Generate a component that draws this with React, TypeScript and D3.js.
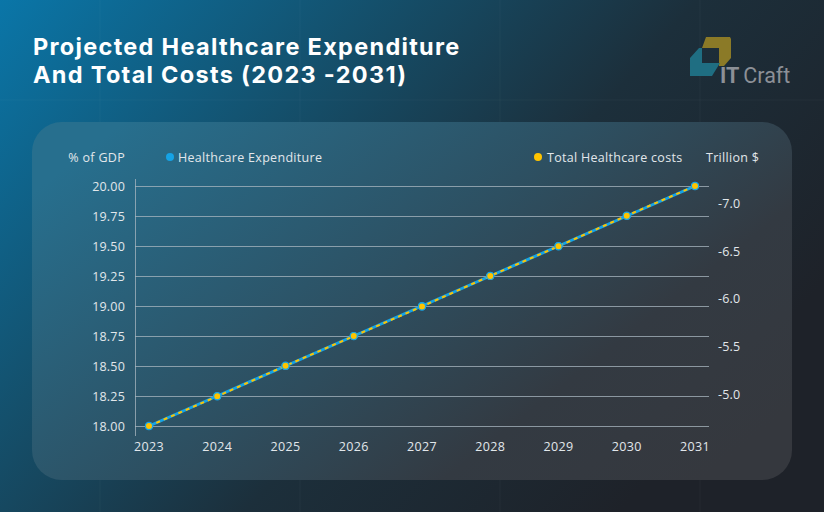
import React from "react";
import * as d3 from "d3";

const years = [2023, 2024, 2025, 2026, 2027, 2028, 2029, 2030, 2031];
const expenditure = [18.0, 18.25, 18.5, 18.75, 19.0, 19.25, 19.5, 19.75, 20.0];
const totalCosts = [-4.67, -4.98, -5.3, -5.61, -5.92, -6.24, -6.55, -6.87, -7.18];
const leftTicks = [18.0, 18.25, 18.5, 18.75, 19.0, 19.25, 19.5, 19.75, 20.0];
const rightTicks = [-5.0, -5.5, -6.0, -6.5, -7.0];
const titleLines = ["Projected Healthcare Expenditure", "And Total Costs (2023 -2031)"];

const W = 824;
const H = 512;
const FONT = "'Open Sans', sans-serif";

export default function App() {
  const x = d3.scaleLinear().domain([2023, 2031]).range([149, 695]);
  const yL = d3.scaleLinear().domain([18, 20]).range([426, 186]);
  const yR = d3.scaleLinear().domain([-4.67, -7.18]).range([426, 186]);

  const lineL = d3
    .line<number>()
    .x((_, i) => x(years[i]))
    .y((d) => yL(d));
  const lineR = d3
    .line<number>()
    .x((_, i) => x(years[i]))
    .y((d) => yR(d));

  const blue = "#15a3e6";
  const yellow = "#ffc400";
  const txt = "#e2e7eb";
  const fmtR = (v: number) => d3.format(".1f")(v).replace("\u2212", "-");

  return (
    <svg
      width={W}
      height={H}
      style={{ position: "absolute", left: 0, top: 0, display: "block" }}
    >
      <defs>
        <linearGradient id="bg" x1="0" y1="0" x2="1" y2="0.55">
          <stop offset="0" stopColor="#0a76a8" />
          <stop offset="0.35" stopColor="#14506c" />
          <stop offset="0.65" stopColor="#1c2f3b" />
          <stop offset="1" stopColor="#1e2229" />
        </linearGradient>
        <linearGradient id="card" x1="0" y1="0.2" x2="1" y2="0.8">
          <stop offset="0" stopColor="#276f8e" />
          <stop offset="0.45" stopColor="#2d5062" />
          <stop offset="0.75" stopColor="#333a42" />
          <stop offset="1" stopColor="#35383e" />
        </linearGradient>
      </defs>
      <rect x={0} y={0} width={W} height={H} fill="url(#bg)" />
      <g stroke="#ffffff" strokeOpacity={0.035}>
        {[100, 300, 500, 700].map((v) => (
          <line key={"v" + v} x1={v} x2={v} y1={0} y2={H} />
        ))}
        {[100].map((v) => (
          <line key={"h" + v} x1={0} x2={W} y1={v} y2={v} />
        ))}
      </g>

      {/* title */}
      <g
        fill="#ffffff"
        fontFamily="Inter, sans-serif"
        fontWeight={700}
        fontSize={23.5}
        letterSpacing={1.3}
      >
        {titleLines.map((t, i) => (
          <text key={t} x={33} y={55 + i * 28}>
            {t}
          </text>
        ))}
      </g>

      {/* logo */}
      <g>
        <polygon
          points="706,37 730,37 731,39 731,58 724,66 719,66 719,48 702,48"
          fill="#8b7a27"
        />
        <polygon
          points="690,58 699,48 702,48 702,63 720,63 712,76 690,76"
          fill="#1f6e82"
        />
        <text x={720} y={83} fontFamily="Roboto, sans-serif" fontSize={21.5} fill="#8c9097">
          <tspan fontWeight={700}>IT</tspan>
          <tspan dx={4}>Craft</tspan>
        </text>
      </g>

      {/* card */}
      <rect x={32} y={122} width={760} height={358} rx={30} fill="url(#card)" />

      {/* gridlines */}
      <g stroke="#aab7c0" strokeOpacity={0.75} strokeWidth={1}>
        {leftTicks.map((t) => (
          <line key={t} x1={135} x2={709} y1={Math.round(yL(t)) + 0.5} y2={Math.round(yL(t)) + 0.5} />
        ))}
        <line x1={135.5} x2={135.5} y1={179} y2={436} />
      </g>

      {/* left tick labels */}
      <g fill={txt} fontFamily={FONT} fontSize={12.5} letterSpacing={0.2} textAnchor="end">
        {leftTicks.map((t) => (
          <text key={t} x={125} y={yL(t) + 4.5}>
            {d3.format(".2f")(t)}
          </text>
        ))}
      </g>

      {/* right tick labels */}
      <g fill={txt} fontFamily={FONT} fontSize={12.5} letterSpacing={0.2} textAnchor="start">
        {rightTicks.map((t) => (
          <text key={t} x={718} y={yR(t) + 4.5}>
            {fmtR(t)}
          </text>
        ))}
      </g>

      {/* x labels */}
      <g fill={txt} fontFamily={FONT} fontSize={12.5} letterSpacing={0.3} textAnchor="middle">
        {years.map((yv) => (
          <text key={yv} x={x(yv)} y={451}>
            {yv}
          </text>
        ))}
      </g>

      {/* legend */}
      <g fontFamily={FONT} fontSize={12.5} letterSpacing={0.3} fill={txt}>
        <text x={125} y={161.5} textAnchor="end">
          % of GDP
        </text>
        <circle cx={170} cy={157} r={4} fill={blue} />
        <text x={178} y={161.5}>
          Healthcare Expenditure
        </text>
        <circle cx={538} cy={157} r={4} fill={yellow} />
        <text x={547} y={161.5}>
          Total Healthcare costs
        </text>
        <text x={706} y={161.5}>
          Trillion $
        </text>
      </g>

      {/* lines */}
      <path d={lineL(expenditure) || ""} fill="none" stroke={blue} strokeWidth={3} />
      <path
        d={lineR(totalCosts) || ""}
        fill="none"
        stroke={yellow}
        strokeWidth={2}
        strokeDasharray="4,4"
      />
      {expenditure.map((v, i) => (
        <circle key={i} cx={x(years[i])} cy={yL(v)} r={4} fill={blue} />
      ))}
      {totalCosts.map((v, i) => (
        <circle
          key={i}
          cx={x(years[i])}
          cy={yR(v)}
          r={3.6}
          fill={yellow}
          stroke={blue}
          strokeWidth={1.2}
        />
      ))}
    </svg>
  );
}
